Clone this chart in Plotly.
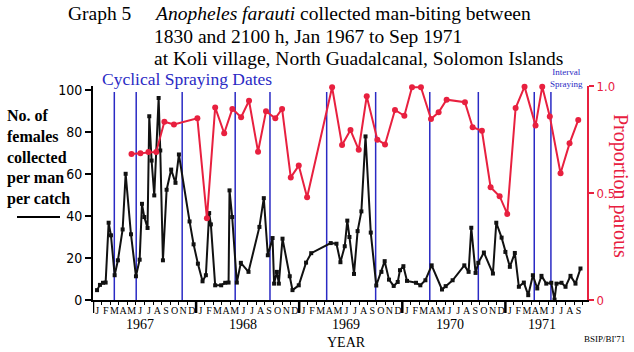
import plotly.graph_objects as go

# ---------------- data (x = months since 1 Jan 1967) ----------------
bite_month = [0.47, 0.81, 1.16, 1.47, 1.82, 2.09, 2.52, 2.90, 3.45, 3.80, 4.42, 5.00, 5.43, 5.70,
              5.97, 6.35, 6.55, 6.82, 7.13, 7.64, 7.83, 8.14, 8.57, 9.10, 9.60, 10.00, 11.24, 11.71,
              12.21, 12.75, 13.14, 13.52, 13.72, 14.22, 14.92, 15.39, 15.78, 15.89, 16.20, 16.74,
              17.21, 18.10, 19.37, 19.88, 20.35, 20.90, 21.08, 21.40, 21.63, 22.06, 22.90, 23.22,
              23.95, 24.80, 25.40, 27.67, 28.34, 28.80, 29.30, 29.60, 29.85, 30.38, 30.80, 31.24,
              31.72, 32.33, 32.97, 33.57, 33.95, 34.45, 35.00, 35.47, 35.73, 36.13, 36.55, 37.60,
              38.10, 38.69, 39.42, 40.62, 41.05, 41.86, 43.22, 43.72, 44.03, 44.53, 44.85, 45.50,
              46.55, 46.94, 47.56, 48.00, 48.52, 49.10, 49.57, 50.15, 50.66, 51.20, 51.71, 52.20,
              52.76, 53.34, 53.72, 53.95, 54.53, 55.00, 55.58, 56.16, 56.74]
bite_count = [4.7, 7.2, 8.2, 8.3, 36.8, 30.8, 11.8, 18.9, 33.6, 60.1, 31.3, 11.3, 19.2, 45.8,
              39.5, 34.3, 87.5, 66.4, 49.8, 96.2, 71.2, 18.9, 52.5, 62.1, 55.8, 69.3, 37.4, 26.5,
              17.3, 8.9, 11.8, 41.4, 36.0, 7.0, 7.0, 8.2, 8.3, 52.2, 39.5, 8.3,
              17.7, 13.4, 34.8, 48.5, 21.3, 29.5, 7.8, 13.4, 7.8, 29.2, 11.3, 4.7,
              7.0, 17.8, 22.3, 27.1, 26.8, 18.0, 25.6, 37.8, 30.0, 12.4, 32.8, 42.2,
              77.9, 32.1, 6.9, 13.4, 18.5, 9.7, 6.7, 8.6, 14.2, 16.1, 9.1, 8.2,
              7.0, 9.4, 16.5, 5.0, 6.6, 9.4, 16.5, 13.4, 34.4, 12.9, 17.7, 22.6,
              12.6, 36.8, 29.7, 22.9, 15.8, 22.4, 6.3, 8.3, 2.3, 11.8, 5.5, 11.5,
              7.8, 8.2, 0.2, 7.8, 8.2, 6.3, 11.5, 7.8, 15.0]

parous_month = [4.48, 5.52, 6.45, 7.36, 8.31, 9.42, 12.15, 13.26, 14.22, 15.27, 16.22, 17.24,
                18.16, 19.21, 20.14, 21.22, 22.01, 23.02, 23.95, 24.92, 27.83, 28.99, 29.97,
                30.93, 31.86, 33.10, 33.99, 35.15, 36.24, 37.13, 38.17, 39.34, 40.23, 41.16,
                43.29, 44.19, 45.27, 46.28, 47.33, 48.22, 49.19, 50.23, 51.51, 52.29, 53.17,
                54.42, 55.47, 56.48]
parous_prop = [0.682, 0.686, 0.692, 0.692, 0.833, 0.820, 0.849, 0.382, 0.900, 0.779, 0.893, 0.854,
               0.931, 0.693, 0.882, 0.849, 0.893, 0.573, 0.628, 0.480, 0.994, 0.724, 0.794,
               0.702, 0.952, 0.749, 0.727, 0.888, 0.861, 0.994, 0.994, 0.846, 0.877, 0.936,
               0.924, 0.807, 0.791, 0.527, 0.485, 0.402, 0.897, 0.997, 0.815, 0.997, 0.858,
               0.592, 0.732, 0.841]

spray_cyclical = [2.48, 5.03, 10.38, 16.55, 20.6, 27.2, 32.9, 39.2, 44.85]
spray_interval = [51.36, 53.3]

month_letters = ["J", "F", "M", "A", "M", "J", "J", "A", "S", "O", "N", "D"]
n_months = 57  # Jan 1967 .. Sep 1971
years = ["1967", "1968", "1969", "1970", "1971"]
year_label_pos = [5.5, 17.5, 29.5, 41.5, 52.3]
left_ticks = [0, 20, 40, 60, 80, 100]
right_ticks = [0, 0.5, 1.0]
right_ticktext = ["0", "0.5", "1.0"]

# ---------------- layout geometry ----------------
W, H = 634, 352
L, R, T, B = 93, 47, 86, 52
PW, PH = W - L - R, H - T - B
BOT = H - B


def px(x):
    return (x - L) / PW


def py(y):
    return (BOT - y) / PH


RED = "#e8203f"
BLUE = "#2a2ac4"
SERIF = "Liberation Serif, Times New Roman, serif"
NARROW = "Liberation Sans Narrow, Arial Narrow, DejaVu Sans Condensed, Liberation Sans, sans-serif"

fig = go.Figure()
fig.add_trace(go.Scatter(x=bite_month, y=bite_count, mode="lines+markers",
                         line=dict(color="#111111", width=2),
                         marker=dict(symbol="square", size=4, color="#111111"),
                         cliponaxis=False, showlegend=False))
fig.add_trace(go.Scatter(x=parous_month, y=parous_prop, mode="lines+markers", yaxis="y2",
                         line=dict(color=RED, width=2),
                         marker=dict(symbol="circle", size=6, color=RED),
                         cliponaxis=False, showlegend=False))

shapes = []
for m in spray_cyclical + spray_interval:
    shapes.append(dict(type="line", xref="x", yref="paper", x0=m, x1=m, y0=0, y1=py(92),
                       line=dict(color=BLUE, width=1.5), layer="below"))
for k in range(len(years)):
    m = 12 * k
    shapes.append(dict(type="line", xref="x", yref="paper", x0=m, x1=m, y0=0, y1=py(313),
                       line=dict(color="black", width=2.5)))
# legend dash under left label
shapes.append(dict(type="line", xref="paper", yref="paper", x0=px(17), x1=px(60),
                   y0=py(217), y1=py(217), line=dict(color="black", width=2)))

ann = []


def text(x, y, s, size, color="black", xanchor="left", family=SERIF, angle=0, align="left"):
    ann.append(dict(x=px(x), y=py(y), xref="paper", yref="paper", text=s, showarrow=False,
                    xanchor=xanchor, yanchor="middle", textangle=angle, align=align,
                    font=dict(family=family, size=size, color=color)))


text(66, 14, "Graph 5", 19.5)
text(152, 14, "<i>Anopheles farauti</i> collected man-biting between", 19.5)
text(152, 36, "1830 and 2100 h, Jan 1967 to Sep 1971", 19.5)
text(152, 58, "at Koli village, North Guadalcanal, Solomon Islands", 19.5)
text(100, 79, "Cyclical Spraying Dates", 17.5, color=BLUE)
text(566, 78, "Interval<br>Spraying", 9, color=BLUE, xanchor="center", align="center")
text(5, 157, "<b>No. of<br>females<br>collected<br>per man<br>per catch</b>", 16)
text(621, 186, "Proportion parous", 20, color=RED, xanchor="center", angle=90)
text(346, 342, "YEAR", 14, xanchor="center")
text(604, 339, "BSIP/BI'71", 9, xanchor="center")
for lab, m in zip(years, year_label_pos):
    ann.append(dict(x=m, y=py(324), xref="x", yref="paper", text=lab, showarrow=False,
                    xanchor="center", yanchor="middle",
                    font=dict(family=SERIF, size=14, color="black")))

fig.update_layout(
    width=W, height=H, margin=dict(l=L, r=R, t=T, b=B),
    plot_bgcolor="white", paper_bgcolor="white",
    shapes=shapes, annotations=ann,
    xaxis=dict(range=[0, 57.5], showgrid=False, zeroline=False,
               showline=True, linecolor="black", linewidth=2,
               tickmode="array", tickvals=[m + 0.5 for m in range(n_months)],
               ticktext=[month_letters[m % 12] for m in range(n_months)],
               ticks="", tickangle=0,
               tickfont=dict(family=SERIF, size=10, color="black"),
               minor=dict(tick0=0, dtick=1, ticks="outside", ticklen=3, tickcolor="black",
                          tickwidth=1)),
    yaxis=dict(range=[0, 100 * PH / 210], showgrid=False, zeroline=False,
               showline=True, linecolor="black", linewidth=2,
               tickmode="array", tickvals=left_ticks, ticks="outside", ticklen=6,
               tickcolor="black", tickwidth=1.5,
               tickfont=dict(family=NARROW, size=14, color="black")),
    yaxis2=dict(overlaying="y", side="right", range=[0, 1.0], showgrid=False, zeroline=False,
                showline=True, linecolor=RED, linewidth=2,
                tickmode="array", tickvals=right_ticks, ticktext=right_ticktext,
                ticks="outside", ticklen=5, tickcolor=RED, tickwidth=1.5,
                tickfont=dict(family=NARROW, size=13, color=RED)),
)

fig.write_html("out.html")
